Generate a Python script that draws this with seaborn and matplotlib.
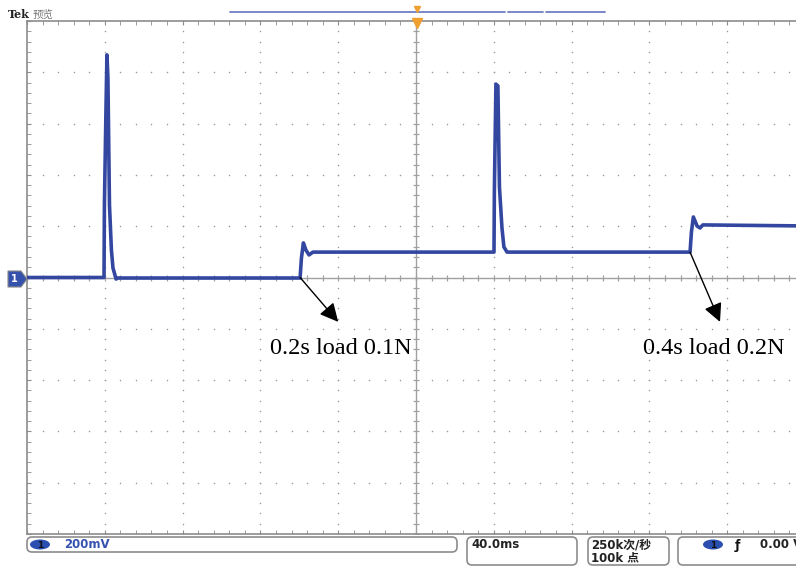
import numpy as np
import matplotlib
matplotlib.use('Agg')
import matplotlib.pyplot as plt
import seaborn as sns
from matplotlib.patches import FancyBboxPatch, Polygon, Ellipse

# trace: time in ms (40 ms/div), voltage in mV (200 mV/div)
time_ms = [0, 39.6, 39.8, 40.6, 41.1, 41.6, 42.4, 43.4, 44.2, 45.8, 46.8,
           140.4, 141.1, 142.1, 143.4, 145.0, 147.0,
           240.1, 240.3, 241.1, 242.1, 242.9, 244.2, 245.2, 246.8,
           340.9, 341.6, 342.6, 344.5, 346.0, 347.5, 400.0]
volt_mv = [0, 0, 283, 653, 868, 778, 283, 107, 37, -6, -2,
           -2, 76, 135, 107, 88, 99,
           99, 341, 754, 747, 353, 193, 119, 99,
           99, 177, 236, 201, 193, 205, 201]

notes = ['0.2s load 0.1N', '0.4s load 0.2N']
note_start = [(140.4, 0), (340.9, 99)]
note_tip = [(160.0, -173), (356.3, -173)]
note_text = [(124.9, -275), (316.7, -275)]

sns.set_style('white')
plt.rcParams['font.family'] = ['DejaVu Sans', 'Noto Sans CJK SC']

W, H = 796, 567
fig = plt.figure(figsize=(W / 100, H / 100), dpi=100)

# scope screen (right edge falls just outside the picture)
x0, x1, y0, y1 = 27, 805, 21, 534
ax = fig.add_axes([x0 / W, 1 - y1 / H, (x1 - x0) / W, (y1 - y0) / H])
ax.set_xlim(0, 400)
ax.set_ylim(-1000, 1000)
grey = '#8c8c8c'
for s in ax.spines.values():
    s.set_color(grey)
    s.set_linewidth(1.2)
ax.set_xticks(np.arange(0, 401, 40))
ax.set_xticks(np.arange(0, 401, 8), minor=True)
ax.set_yticks(np.arange(-1000, 1001, 200))
ax.set_yticks(np.arange(-1000, 1001, 40), minor=True)
ax.tick_params(which='both', direction='in', length=3, color=grey,
               top=True, bottom=True, left=True, right=True,
               labelbottom=False, labelleft=False)

# dotted graticule
for gx in np.arange(40, 400, 40):
    if gx == 200:
        continue
    yy = np.arange(-1000, 1001, 40)
    ax.scatter(np.full(len(yy), gx), yy, s=1.2, color='#9a9a9a', lw=0, zorder=1)
for gy in np.arange(-800, 801, 200):
    if gy == 0:
        continue
    xx = np.arange(0, 401, 8)
    ax.scatter(xx, np.full(len(xx), gy), s=1.2, color='#9a9a9a', lw=0, zorder=1)

# centre crosshair with ticks
ax.axhline(0, color='#a0a0a0', lw=1, zorder=1)
ax.axvline(200, color='#a0a0a0', lw=1, zorder=1)
xx = np.arange(0, 401, 8)
ax.scatter(xx, np.zeros(len(xx)), marker='|', s=22, color='#a0a0a0', lw=0.9, zorder=1)
yy = np.arange(-1000, 1001, 40)
ax.scatter(np.full(len(yy), 200), yy, marker='_', s=22, color='#a0a0a0', lw=0.9, zorder=1)

sns.lineplot(x=time_ms, y=volt_mv, ax=ax, color='#3347a0', lw=2.6,
             estimator=None, sort=False, zorder=3)

for txt, st, tip, pos in zip(notes, note_start, note_tip, note_text):
    ax.annotate('', xy=tip, xytext=st,
                arrowprops=dict(arrowstyle='-|>', color='black', lw=1,
                                mutation_scale=28, shrinkA=0, shrinkB=0))
    ax.text(pos[0], pos[1], txt, family='Liberation Serif', fontsize=17.5,
            va='center', ha='left', color='black')

# overlay in pixel units for the scope furniture
ov = fig.add_axes([0, 0, 1, 1])
ov.set_xlim(0, W)
ov.set_ylim(H, 0)
ov.axis('off')
ov.patch.set_alpha(0)

ov.text(8, 15, 'Tek', family='DejaVu Serif', fontweight='bold', fontsize=8,
        va='center', color='#222222')
ov.text(33, 15, '预览', family=['Noto Sans CJK SC'], fontsize=7.5,
        va='center', color='#777777')

for a, b in [(230, 505), (508, 543), (546, 605)]:
    ov.plot([a, b], [12, 12], color='#6f80c4', lw=1.3)
ov.plot([417], [9], marker='v', ms=4, color='#f0a030')
ov.plot([417], [23], marker='v', ms=7, color='#f0a030')

ov.add_patch(Polygon([(8, 271), (21, 271), (27, 279), (21, 287), (8, 287)],
                     closed=True, fc='#3552ac', ec='#888888', lw=0.8))
ov.text(14, 279.5, '1', color='white', fontsize=7, fontweight='bold',
        ha='center', va='center')

def box(x, y, w, h):
    ov.add_patch(FancyBboxPatch((x, y), w, h,
                                boxstyle='round,pad=0,rounding_size=5',
                                fc='white', ec=grey, lw=1.2))

box(27, 537, 430, 15)
ov.add_patch(Ellipse((40, 544.5), 20, 10, fc='#2a4fb0', ec='none'))
ov.text(40, 545, '1', color='#111111', fontsize=6.5, fontweight='bold',
        ha='center', va='center')
ov.text(64, 545, '200mV', color='#3552b0', fontsize=8.5, fontweight='bold',
        va='center')

box(467, 537, 110, 28)
ov.text(471, 545, '40.0ms', color='#222222', fontsize=8.5, fontweight='bold',
        va='center')

box(588, 537, 81, 28)
ov.text(591, 545, '250k次/秒', color='#222222', fontsize=8.5, fontweight='bold',
        va='center')
ov.text(591, 558, '100k 点', color='#222222', fontsize=8.5, fontweight='bold',
        va='center')

box(678, 537, 140, 28)
ov.add_patch(Ellipse((713, 544.5), 20, 10, fc='#2a4fb0', ec='none'))
ov.text(713, 545, '1', color='#111111', fontsize=6.5, fontweight='bold',
        ha='center', va='center')
ov.text(735, 545, 'ƒ', color='#111111', fontsize=9, fontweight='bold',
        va='center')
ov.text(760, 545, '0.00 V', color='#222222', fontsize=8.5, fontweight='bold',
        va='center')

fig.savefig('out.png', dpi=100)
